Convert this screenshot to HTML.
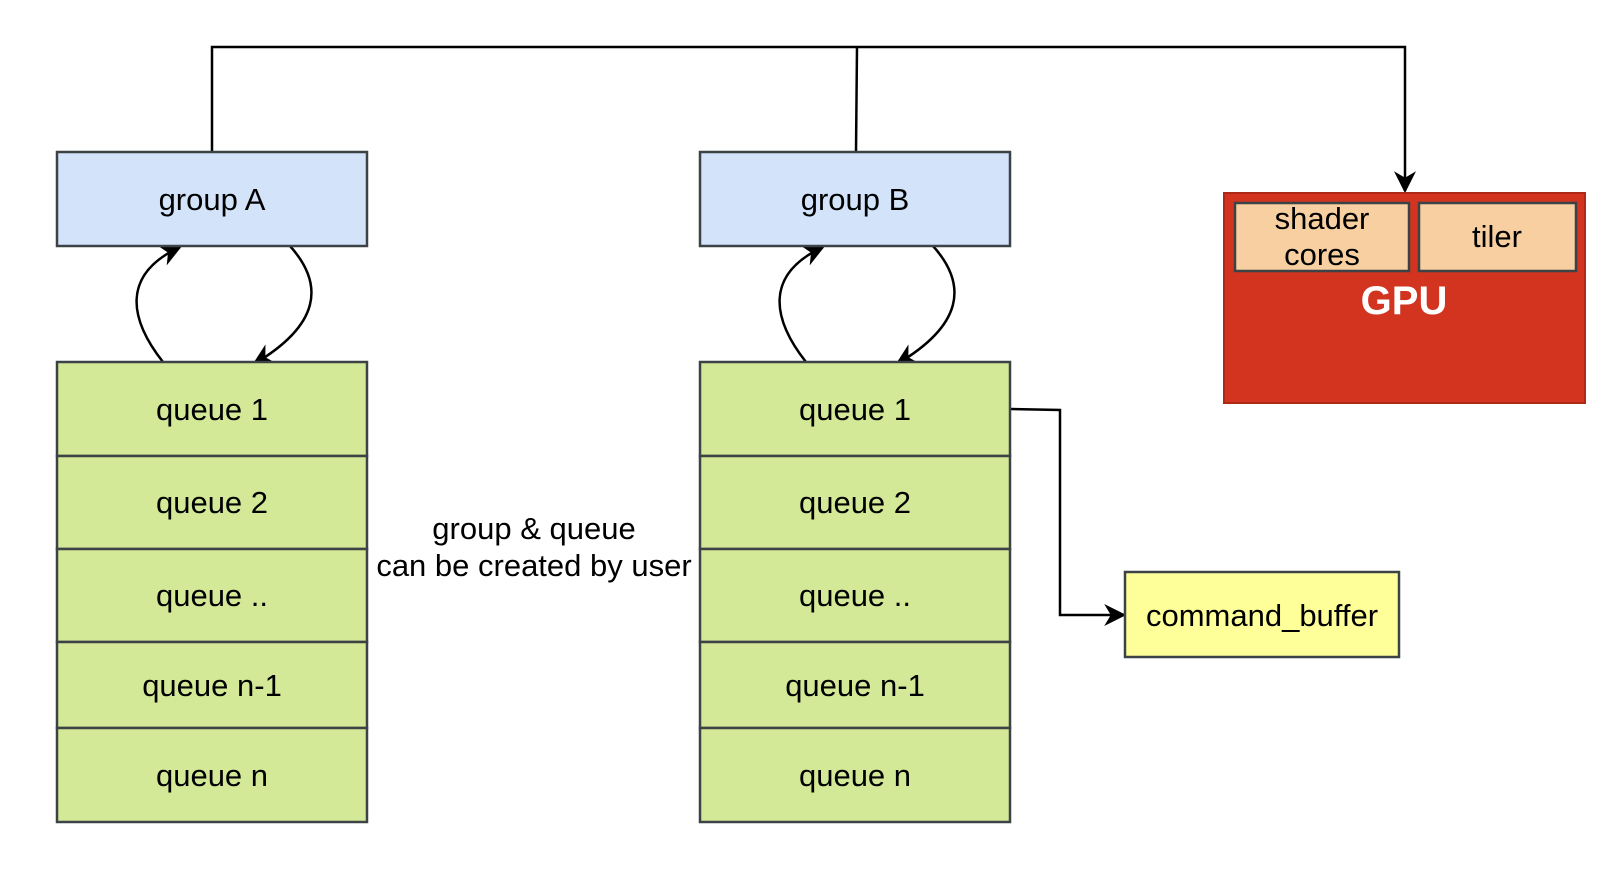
<!DOCTYPE html>
<html><head><style>
body{margin:0;background:#fff;}
svg text{font-family:"Liberation Sans",Arial,sans-serif;}
</style></head><body>
<svg width="1624" height="882" viewBox="0 0 1624 882" xmlns="http://www.w3.org/2000/svg">
<defs>
<marker id="ar" viewBox="0 0 10 10" refX="9" refY="5" markerWidth="22" markerHeight="22" markerUnits="userSpaceOnUse" orient="auto"><path d="M0,0 L10,5 L0,10 L3,5 z" fill="#000"/></marker>
</defs>
<g fill="none" stroke="#000" stroke-width="2.5">
<polyline points="212,152 212,47 1405,47 1405,191" marker-end="url(#ar)"/>
<polyline points="856,152 857,47"/>
<polyline points="1010,409 1060,410 1060,615 1124,615" marker-end="url(#ar)"/>
<path d="M163,362 C130,320 120,275 180,247" marker-end="url(#ar)"/>
<path d="M290,246 C325,285 320,325 254,364" marker-end="url(#ar)"/>
<path d="M806,362 C773,320 763,275 823,247" marker-end="url(#ar)"/>
<path d="M933,246 C968,285 963,325 897,364" marker-end="url(#ar)"/>
</g>
<g stroke="#3d4247" stroke-width="2.5">
<rect x="57" y="152" width="310" height="94" fill="#d2e3fa"/>
<rect x="700" y="152" width="310" height="94" fill="#d2e3fa"/>
<g fill="#d4e997">
<rect x="57" y="362" width="310" height="94"/><rect x="57" y="456" width="310" height="93"/><rect x="57" y="549" width="310" height="93"/><rect x="57" y="642" width="310" height="86"/><rect x="57" y="728" width="310" height="94"/>
<rect x="700" y="362" width="310" height="94"/><rect x="700" y="456" width="310" height="93"/><rect x="700" y="549" width="310" height="93"/><rect x="700" y="642" width="310" height="86"/><rect x="700" y="728" width="310" height="94"/>
</g>
<rect x="1125" y="572" width="274" height="85" fill="#feff99"/>
</g>
<rect x="1224" y="193" width="361" height="210" fill="#d2341f" stroke="#ad2a19" stroke-width="2"/>
<rect x="1235" y="203" width="174" height="68" fill="#f7cfa0" stroke="#3d4247" stroke-width="2.5"/>
<rect x="1419" y="203" width="157" height="68" fill="#f7cfa0" stroke="#3d4247" stroke-width="2.5"/>
<g font-size="31" text-anchor="middle" fill="#000">
<text x="212" y="210">group A</text>
<text x="855" y="210">group B</text>
<text x="212" y="420">queue 1</text><text x="212" y="513">queue 2</text><text x="212" y="606">queue ..</text><text x="212" y="696">queue n-1</text><text x="212" y="786">queue n</text>
<text x="855" y="420">queue 1</text><text x="855" y="513">queue 2</text><text x="855" y="606">queue ..</text><text x="855" y="696">queue n-1</text><text x="855" y="786">queue n</text>
<text x="1262" y="626">command_buffer</text>
<text x="534" y="539">group &amp; queue</text>
<text x="534" y="576">can be created by user</text>
<text x="1322" y="229">shader</text>
<text x="1322" y="265">cores</text>
<text x="1497" y="247">tiler</text>
<text x="1404" y="314" font-size="40" font-weight="bold" fill="#fff">GPU</text>
</g>
</svg>
</body></html>
